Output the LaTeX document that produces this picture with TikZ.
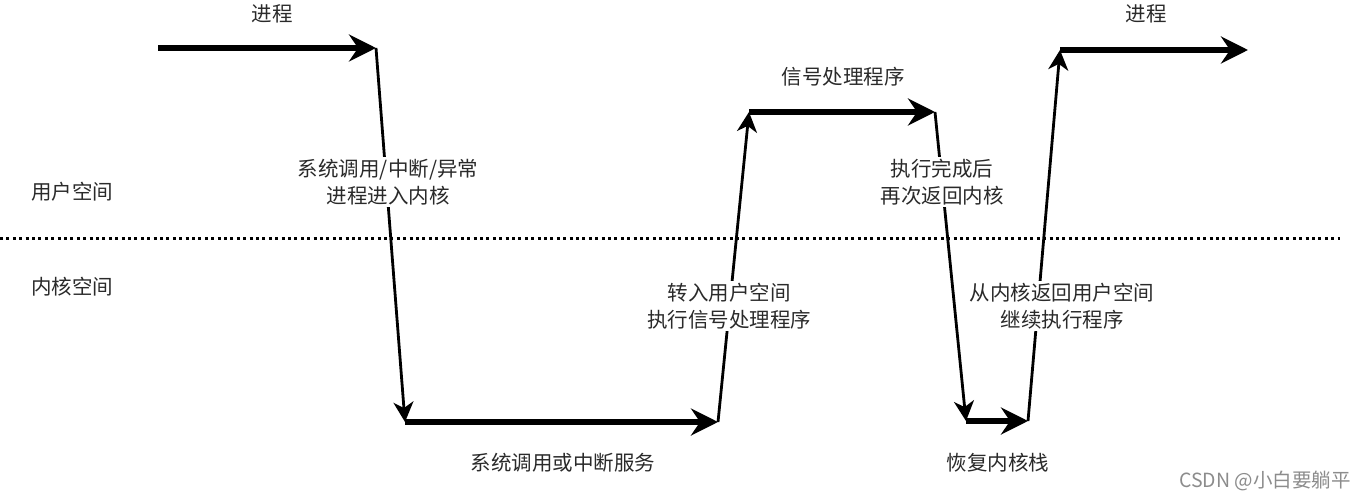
\documentclass[tikz,border=0pt]{standalone}
\usepackage{fontspec}
\setmainfont{Noto Sans CJK SC}
\usetikzlibrary{arrows.meta}
\definecolor{txt}{HTML}{2A2A2A}

\begin{document}
\begin{tikzpicture}[x=1pt, y=-1pt,
  flow/.style={line width=6pt, -{Stealth[length=27pt,width=27pt,inset=9pt]}},
  trap/.style={line width=2.8pt, -{Stealth[length=20pt,width=20pt,inset=6pt]}},
  note/.style={text=txt, font=\fontsize{20.5}{27}\selectfont, align=center, fill=white, inner sep=2pt}]
  \useasboundingbox (0,0) rectangle (1366,500);

  % 用户空间 / 内核空间 分界
  \draw[line width=3pt, dash pattern=on 3pt off 3.4pt] (0,238) -- (1340,238);
  \node[note] (user) at (72,192) {用户空间};
  \node[note] (kern) at (72,287) {内核空间};

  % 转折点
  \coordinate (p0) at (158,48);
  \coordinate (p1) at (376,48);
  \coordinate (p2) at (405,422);
  \coordinate (p3) at (718,422);
  \coordinate (p4) at (749,112);
  \coordinate (p5) at (935,112);
  \coordinate (p6) at (966,421);
  \coordinate (p7) at (1028,421);
  \coordinate (p8) at (1060,50);
  \coordinate (p9) at (1248,50);

  % 执行流
  \foreach \a/\b in {p0/p1, p2/p3, p4/p5, p6/p7, p8/p9} {
    \draw[flow] (\a) -- (\b);
  }
  \foreach \a/\b in {p1/p2, p3/p4, p5/p6, p7/p8} {
    \draw[trap] (\a) -- (\b);
  }

  % 说明文字
  \node[note] (proc1) at (272,14) {进程};
  \node[note] (proc2) at (1146,14) {进程};
  \node[note] (sig) at (843,77) {信号处理程序};
  \node[note] (enter) at (388,182) {系统调用/中断/异常\\进程进入内核};
  \node[note] (back) at (942,182) {执行完成后\\再次返回内核};
  \node[note] (touser) at (729,306) {转入用户空间\\执行信号处理程序};
  \node[note] (ret) at (1062,306) {从内核返回用户空间\\继续执行程序};
  \node[note] (svc) at (563,463) {系统调用或中断服务};
  \node[note] (stack) at (998,463) {恢复内核栈};
  \node[note, text=black!45, font=\fontsize{19.5}{22}\selectfont] (mark) at (1265,481) {CSDN @小白要躺平};
\end{tikzpicture}
\end{document}
